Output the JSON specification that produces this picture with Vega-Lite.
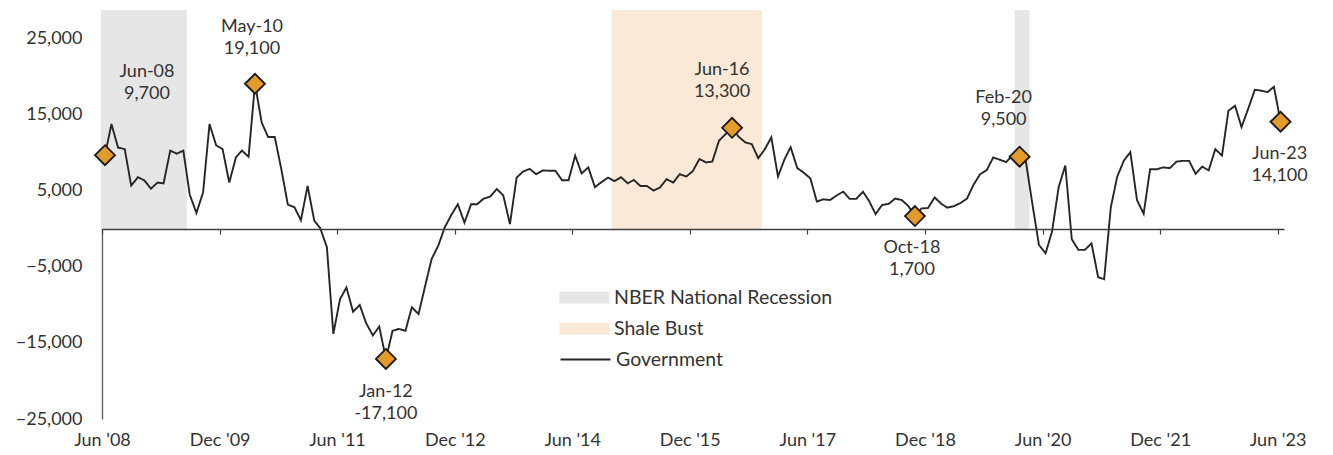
{
  "$schema": "https://vega.github.io/schema/vega-lite/v6.json",
  "width": 1182,
  "height": 409,
  "autosize": {"type": "none"},
  "padding": {"left": 102, "top": 10, "right": 49, "bottom": 36},
  "background": "white",
  "config": {
    "view": {"stroke": null},
    "font": "Lato",
    "text": {"font": "Lato"}
  },
  "datasets": {
    "gov": [
      {"date": "2008-06-15", "v": 9700}, {"date": "2008-07-15", "v": 13800}, {"date": "2008-08-15", "v": 10700}, {"date": "2008-09-15", "v": 10500}, {"date": "2008-10-15", "v": 5700}, {"date": "2008-11-15", "v": 6800}, {"date": "2008-12-15", "v": 6400},
      {"date": "2009-01-15", "v": 5300}, {"date": "2009-02-15", "v": 6100}, {"date": "2009-03-15", "v": 6000}, {"date": "2009-04-15", "v": 10300}, {"date": "2009-05-15", "v": 9900}, {"date": "2009-06-15", "v": 10300}, {"date": "2009-07-15", "v": 4500}, {"date": "2009-08-15", "v": 2100}, {"date": "2009-09-15", "v": 4800}, {"date": "2009-10-15", "v": 13800}, {"date": "2009-11-15", "v": 11000}, {"date": "2009-12-15", "v": 10500},
      {"date": "2010-01-15", "v": 6100}, {"date": "2010-02-15", "v": 9400}, {"date": "2010-03-15", "v": 10300}, {"date": "2010-04-15", "v": 9500}, {"date": "2010-05-15", "v": 19100}, {"date": "2010-06-15", "v": 14000}, {"date": "2010-07-15", "v": 12100}, {"date": "2010-08-15", "v": 12100}, {"date": "2010-09-15", "v": 7800}, {"date": "2010-10-15", "v": 3200}, {"date": "2010-11-15", "v": 2850}, {"date": "2010-12-15", "v": 1150},
      {"date": "2011-01-15", "v": 5650}, {"date": "2011-02-15", "v": 1100}, {"date": "2011-03-15", "v": 100}, {"date": "2011-04-15", "v": -2400}, {"date": "2011-05-15", "v": -13800}, {"date": "2011-06-15", "v": -9250}, {"date": "2011-07-15", "v": -7700}, {"date": "2011-08-15", "v": -10900}, {"date": "2011-09-15", "v": -10000}, {"date": "2011-10-15", "v": -12400}, {"date": "2011-11-15", "v": -14000}, {"date": "2011-12-15", "v": -12850},
      {"date": "2012-01-15", "v": -17100}, {"date": "2012-02-15", "v": -13400}, {"date": "2012-03-15", "v": -13150}, {"date": "2012-04-15", "v": -13400}, {"date": "2012-05-15", "v": -10300}, {"date": "2012-06-15", "v": -11200}, {"date": "2012-07-15", "v": -7600}, {"date": "2012-08-15", "v": -3950}, {"date": "2012-09-15", "v": -2200}, {"date": "2012-10-15", "v": 200}, {"date": "2012-11-15", "v": 1850}, {"date": "2012-12-15", "v": 3250},
      {"date": "2013-01-15", "v": 830}, {"date": "2013-02-15", "v": 3250}, {"date": "2013-03-15", "v": 3250}, {"date": "2013-04-15", "v": 4000}, {"date": "2013-05-15", "v": 4250}, {"date": "2013-06-15", "v": 5250}, {"date": "2013-07-15", "v": 4400}, {"date": "2013-08-15", "v": 650}, {"date": "2013-09-15", "v": 6750}, {"date": "2013-10-15", "v": 7550}, {"date": "2013-11-15", "v": 7900}, {"date": "2013-12-15", "v": 7200},
      {"date": "2014-01-15", "v": 7700}, {"date": "2014-02-15", "v": 7650}, {"date": "2014-03-15", "v": 7650}, {"date": "2014-04-15", "v": 6400}, {"date": "2014-05-15", "v": 6400}, {"date": "2014-06-15", "v": 9650}, {"date": "2014-07-15", "v": 7300}, {"date": "2014-08-15", "v": 8100}, {"date": "2014-09-15", "v": 5500}, {"date": "2014-10-15", "v": 6150}, {"date": "2014-11-15", "v": 6750}, {"date": "2014-12-15", "v": 6300},
      {"date": "2015-01-15", "v": 6800}, {"date": "2015-02-15", "v": 6000}, {"date": "2015-03-15", "v": 6450}, {"date": "2015-04-15", "v": 5650}, {"date": "2015-05-15", "v": 5650}, {"date": "2015-06-15", "v": 5050}, {"date": "2015-07-15", "v": 5450}, {"date": "2015-08-15", "v": 6550}, {"date": "2015-09-15", "v": 6100}, {"date": "2015-10-15", "v": 7200}, {"date": "2015-11-15", "v": 6900}, {"date": "2015-12-15", "v": 7600},
      {"date": "2016-01-15", "v": 9200}, {"date": "2016-02-15", "v": 8750}, {"date": "2016-03-15", "v": 8850}, {"date": "2016-04-15", "v": 11600}, {"date": "2016-05-15", "v": 12450}, {"date": "2016-06-15", "v": 13300}, {"date": "2016-07-15", "v": 12150}, {"date": "2016-08-15", "v": 11400}, {"date": "2016-09-15", "v": 11150}, {"date": "2016-10-15", "v": 9300}, {"date": "2016-11-15", "v": 10500}, {"date": "2016-12-15", "v": 12050},
      {"date": "2017-01-15", "v": 6900}, {"date": "2017-02-15", "v": 9200}, {"date": "2017-03-15", "v": 10750}, {"date": "2017-04-15", "v": 8000}, {"date": "2017-05-15", "v": 7400}, {"date": "2017-06-15", "v": 6650}, {"date": "2017-07-15", "v": 3600}, {"date": "2017-08-15", "v": 3900}, {"date": "2017-09-15", "v": 3800}, {"date": "2017-10-15", "v": 4400}, {"date": "2017-11-15", "v": 4900}, {"date": "2017-12-15", "v": 3950},
      {"date": "2018-01-15", "v": 3950}, {"date": "2018-02-15", "v": 4900}, {"date": "2018-03-15", "v": 3700}, {"date": "2018-04-15", "v": 1950}, {"date": "2018-05-15", "v": 3150}, {"date": "2018-06-15", "v": 3300}, {"date": "2018-07-15", "v": 4000}, {"date": "2018-08-15", "v": 3800}, {"date": "2018-09-15", "v": 3000}, {"date": "2018-10-15", "v": 1700}, {"date": "2018-11-15", "v": 2700}, {"date": "2018-12-15", "v": 2750},
      {"date": "2019-01-15", "v": 4150}, {"date": "2019-02-15", "v": 3300}, {"date": "2019-03-15", "v": 2800}, {"date": "2019-04-15", "v": 3000}, {"date": "2019-05-15", "v": 3400}, {"date": "2019-06-15", "v": 4000}, {"date": "2019-07-15", "v": 5800}, {"date": "2019-08-15", "v": 7200}, {"date": "2019-09-15", "v": 7750}, {"date": "2019-10-15", "v": 9400}, {"date": "2019-11-15", "v": 9100}, {"date": "2019-12-15", "v": 8800},
      {"date": "2020-01-15", "v": 9750}, {"date": "2020-02-15", "v": 9500}, {"date": "2020-03-15", "v": 8900}, {"date": "2020-04-15", "v": 3200}, {"date": "2020-05-15", "v": -2100}, {"date": "2020-06-15", "v": -3200}, {"date": "2020-07-15", "v": -350}, {"date": "2020-08-15", "v": 5500}, {"date": "2020-09-15", "v": 8350}, {"date": "2020-10-15", "v": -1350}, {"date": "2020-11-15", "v": -2750}, {"date": "2020-12-15", "v": -2750},
      {"date": "2021-01-15", "v": -1900}, {"date": "2021-02-15", "v": -6350}, {"date": "2021-03-15", "v": -6600}, {"date": "2021-04-15", "v": 2850}, {"date": "2021-05-15", "v": 6900}, {"date": "2021-06-15", "v": 9000}, {"date": "2021-07-15", "v": 10100}, {"date": "2021-08-15", "v": 3800}, {"date": "2021-09-15", "v": 2000}, {"date": "2021-10-15", "v": 7850}, {"date": "2021-11-15", "v": 7850}, {"date": "2021-12-15", "v": 8100},
      {"date": "2022-01-15", "v": 8000}, {"date": "2022-02-15", "v": 8850}, {"date": "2022-03-15", "v": 8950}, {"date": "2022-04-15", "v": 8950}, {"date": "2022-05-15", "v": 7250}, {"date": "2022-06-15", "v": 8200}, {"date": "2022-07-15", "v": 7700}, {"date": "2022-08-15", "v": 10500}, {"date": "2022-09-15", "v": 9650}, {"date": "2022-10-15", "v": 15550}, {"date": "2022-11-15", "v": 16200}, {"date": "2022-12-15", "v": 13400},
      {"date": "2023-01-15", "v": 15800}, {"date": "2023-02-15", "v": 18300}, {"date": "2023-03-15", "v": 18200}, {"date": "2023-04-15", "v": 18000}, {"date": "2023-05-15", "v": 18700}, {"date": "2023-06-15", "v": 14100}
    ],
    "bands": [
      {"series": "NBER National Recession", "start": "2008-06-01", "end": "2009-07-01"},
      {"series": "Shale Bust", "start": "2014-12-01", "end": "2016-11-01"},
      {"series": "NBER National Recession", "start": "2020-01-23", "end": "2020-04-01"}
    ],
    "marks": [
      {"name": "Jun-08", "date": "2008-06-15", "v": 9700, "label": "Jun-08\n9,700"},
      {"name": "May-10", "date": "2010-05-15", "v": 19100, "label": "May-10\n19,100"},
      {"name": "Jan-12", "date": "2012-01-15", "v": -17100, "label": "Jan-12\n-17,100"},
      {"name": "Jun-16", "date": "2016-06-15", "v": 13300, "label": "Jun-16\n13,300"},
      {"name": "Oct-18", "date": "2018-10-15", "v": 1700, "label": "Oct-18\n1,700"},
      {"name": "Feb-20", "date": "2020-02-15", "v": 9500, "label": "Feb-20\n9,500"},
      {"name": "Jun-23", "date": "2023-06-15", "v": 14100, "label": "Jun-23\n14,100"}
    ]
  },
  "layer": [
    {
      "data": {"name": "bands"},
      "mark": {"type": "rect", "opacity": 1},
      "encoding": {
        "x": {
          "field": "start", "type": "temporal",
          "scale": {"type": "utc", "domain": [{"year": 2008, "month": 6, "date": 1, "utc": true}, {"year": 2023, "month": 7, "date": 1, "utc": true}]},
          "axis": {
            "orient": "bottom",
            "values": [
              {"year": 2008, "month": 6, "date": 1, "utc": true}, {"year": 2009, "month": 12, "date": 1, "utc": true},
              {"year": 2011, "month": 6, "date": 1, "utc": true}, {"year": 2012, "month": 12, "date": 1, "utc": true},
              {"year": 2014, "month": 6, "date": 1, "utc": true}, {"year": 2015, "month": 12, "date": 1, "utc": true},
              {"year": 2017, "month": 6, "date": 1, "utc": true}, {"year": 2018, "month": 12, "date": 1, "utc": true},
              {"year": 2020, "month": 6, "date": 1, "utc": true}, {"year": 2021, "month": 12, "date": 1, "utc": true},
              {"year": 2023, "month": 6, "date": 1, "utc": true}
            ],
            "labels": false, "ticks": true, "tickSize": 5, "tickColor": "#404040", "tickWidth": 1.2,
            "domain": true, "domainColor": "#404040", "domainWidth": 1.3,
            "offset": -190, "grid": false, "title": null, "zindex": 1
          }
        },
        "x2": {"field": "end"},
        "y": {
          "datum": 28800, "type": "quantitative",
          "scale": {"domain": [-25000, 28800], "nice": false, "zero": false},
          "axis": null
        },
        "y2": {"datum": 0},
        "color": {
          "field": "series", "type": "nominal",
          "scale": {"domain": ["NBER National Recession", "Shale Bust"], "range": ["#e6e6e6", "#fae9d6"]},
          "legend": {
            "orient": "none", "legendX": 470, "legendY": 275, "title": null, "padding": 0,
            "symbolType": "M-2,-0.48L2,-0.48L2,0.48L-2,0.48Z",
            "symbolSize": 625, "symbolStrokeWidth": 0, "symbolOpacity": 1,
            "labelOffset": 17, "labelFontSize": 19.5, "labelFont": "Lato", "labelColor": "#333333",
            "rowPadding": 9, "labelLimit": 400
          }
        }
      }
    },
    {
      "data": {"name": "gov"},
      "mark": {"type": "line", "strokeWidth": 1.9, "interpolate": "linear", "color": "#262626"},
      "encoding": {
        "x": {
          "field": "date", "type": "temporal",
          "scale": {"type": "utc", "domain": [{"year": 2008, "month": 6, "date": 1, "utc": true}, {"year": 2023, "month": 7, "date": 1, "utc": true}]},
          "axis": {
            "orient": "bottom",
            "values": [
              {"year": 2008, "month": 6, "date": 1, "utc": true}, {"year": 2009, "month": 12, "date": 1, "utc": true},
              {"year": 2011, "month": 6, "date": 1, "utc": true}, {"year": 2012, "month": 12, "date": 1, "utc": true},
              {"year": 2014, "month": 6, "date": 1, "utc": true}, {"year": 2015, "month": 12, "date": 1, "utc": true},
              {"year": 2017, "month": 6, "date": 1, "utc": true}, {"year": 2018, "month": 12, "date": 1, "utc": true},
              {"year": 2020, "month": 6, "date": 1, "utc": true}, {"year": 2021, "month": 12, "date": 1, "utc": true},
              {"year": 2023, "month": 6, "date": 1, "utc": true}
            ],
            "labelExpr": "utcFormat(datum.value, \"%b '%y\")",
            "ticks": false, "domain": false, "grid": false, "title": null,
            "labelFontSize": 18, "labelFont": "Lato", "labelColor": "#333333", "labelPadding": 12,
            "labelFlush": false, "labelOverlap": false
          }
        },
        "y": {
          "field": "v", "type": "quantitative",
          "scale": {"domain": [-25000, 28800], "nice": false, "zero": false},
          "axis": {
            "orient": "left",
            "values": [-25000, -15000, -5000, 5000, 15000, 25000],
            "labelExpr": "format(datum.value, ',')",
            "ticks": false, "grid": false, "title": null,
            "domainColor": "#595959", "domainWidth": 1.3,
            "labelFontSize": 18, "labelFont": "Lato", "labelColor": "#333333", "labelPadding": 20
          }
        },
        "strokeDash": {
          "datum": "Government", "type": "nominal",
          "scale": {"domain": ["Government"], "range": [[1, 0]]},
          "legend": {
            "orient": "none", "legendX": 470, "legendY": 336, "title": null, "padding": 0,
            "symbolType": "M-2,0L2,0", "symbolSize": 625,
            "symbolStrokeColor": "#262626", "symbolStrokeWidth": 1.8, "symbolOpacity": 1,
            "labelOffset": 17, "labelFontSize": 19.5, "labelFont": "Lato", "labelColor": "#333333",
            "labelLimit": 400
          }
        }
      }
    },
    {
      "data": {"name": "marks"},
      "mark": {"type": "point", "shape": "diamond", "size": 400, "filled": true, "fill": "#e39b2a", "stroke": "#1a1a1a", "strokeWidth": 1.8, "opacity": 1},
      "encoding": {
        "x": {"field": "date", "type": "temporal", "axis": null},
        "y": {"field": "v", "type": "quantitative", "axis": null}
      }
    },
    {
      "data": {"name": "marks"},
      "transform": [{"filter": "datum.name === 'Jun-08'"}],
      "mark": {"type": "text", "dx": 42, "dy": -83, "fontSize": 18, "font": "Lato", "lineHeight": 22, "lineBreak": "\n", "align": "center", "baseline": "middle", "color": "#333333"},
      "encoding": {"x": {"field": "date", "type": "temporal", "axis": null}, "y": {"field": "v", "type": "quantitative", "axis": null}, "text": {"field": "label"}}
    },
    {
      "data": {"name": "marks"},
      "transform": [{"filter": "datum.name === 'May-10'"}],
      "mark": {"type": "text", "dx": -3, "dy": -57, "fontSize": 18, "font": "Lato", "lineHeight": 22, "lineBreak": "\n", "align": "center", "baseline": "middle", "color": "#333333"},
      "encoding": {"x": {"field": "date", "type": "temporal", "axis": null}, "y": {"field": "v", "type": "quantitative", "axis": null}, "text": {"field": "label"}}
    },
    {
      "data": {"name": "marks"},
      "transform": [{"filter": "datum.name === 'Jan-12'"}],
      "mark": {"type": "text", "dx": 0, "dy": 33, "fontSize": 18, "font": "Lato", "lineHeight": 22, "lineBreak": "\n", "align": "center", "baseline": "middle", "color": "#333333"},
      "encoding": {"x": {"field": "date", "type": "temporal", "axis": null}, "y": {"field": "v", "type": "quantitative", "axis": null}, "text": {"field": "label"}}
    },
    {
      "data": {"name": "marks"},
      "transform": [{"filter": "datum.name === 'Jun-16'"}],
      "mark": {"type": "text", "dx": -10, "dy": -58, "fontSize": 18, "font": "Lato", "lineHeight": 22, "lineBreak": "\n", "align": "center", "baseline": "middle", "color": "#333333"},
      "encoding": {"x": {"field": "date", "type": "temporal", "axis": null}, "y": {"field": "v", "type": "quantitative", "axis": null}, "text": {"field": "label"}}
    },
    {
      "data": {"name": "marks"},
      "transform": [{"filter": "datum.name === 'Oct-18'"}],
      "mark": {"type": "text", "dx": -3, "dy": 32, "fontSize": 18, "font": "Lato", "lineHeight": 22, "lineBreak": "\n", "align": "center", "baseline": "middle", "color": "#333333"},
      "encoding": {"x": {"field": "date", "type": "temporal", "axis": null}, "y": {"field": "v", "type": "quantitative", "axis": null}, "text": {"field": "label"}}
    },
    {
      "data": {"name": "marks"},
      "transform": [{"filter": "datum.name === 'Feb-20'"}],
      "mark": {"type": "text", "dx": -16, "dy": -59, "fontSize": 18, "font": "Lato", "lineHeight": 22, "lineBreak": "\n", "align": "center", "baseline": "middle", "color": "#333333"},
      "encoding": {"x": {"field": "date", "type": "temporal", "axis": null}, "y": {"field": "v", "type": "quantitative", "axis": null}, "text": {"field": "label"}}
    },
    {
      "data": {"name": "marks"},
      "transform": [{"filter": "datum.name === 'Jun-23'"}],
      "mark": {"type": "text", "dx": -1, "dy": 32, "fontSize": 18, "font": "Lato", "lineHeight": 22, "lineBreak": "\n", "align": "center", "baseline": "middle", "color": "#333333"},
      "encoding": {"x": {"field": "date", "type": "temporal", "axis": null}, "y": {"field": "v", "type": "quantitative", "axis": null}, "text": {"field": "label"}}
    }
  ],
  "resolve": {"axis": {"x": "independent", "y": "independent"}}
}
